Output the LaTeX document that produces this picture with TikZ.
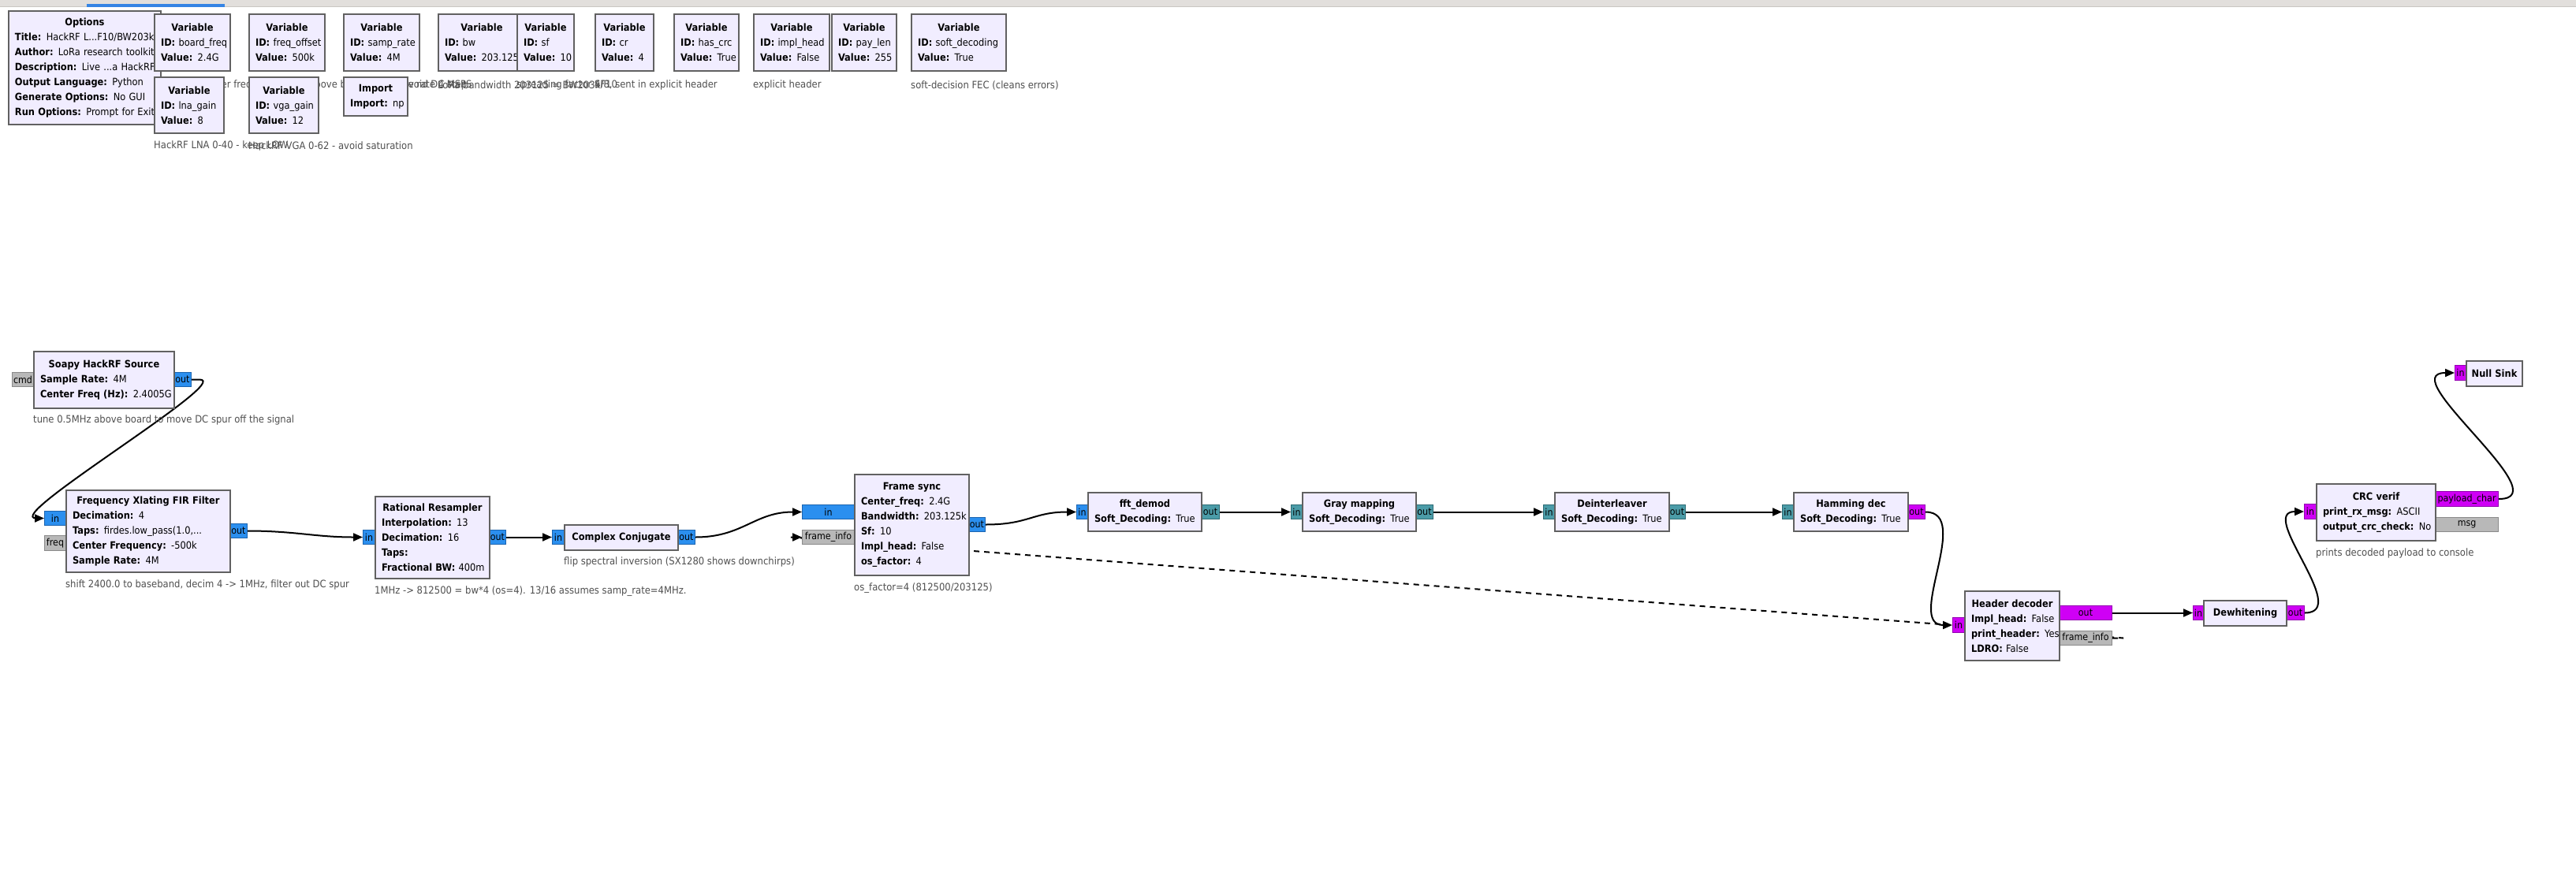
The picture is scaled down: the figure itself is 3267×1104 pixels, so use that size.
\documentclass[tikz,border=0pt]{standalone}
\usepackage{fontspec}
\setmainfont{DejaVu Sans}[FakeStretch=0.9]
\usetikzlibrary{arrows.meta,backgrounds,calc}

\definecolor{blkfill}{HTML}{F1EDFF}
\definecolor{blkline}{HTML}{616161}
\definecolor{cplxfill}{HTML}{2B8FEF}
\definecolor{cplxline}{HTML}{1B64B0}
\definecolor{bytefill}{HTML}{4B9CA8}
\definecolor{byteline}{HTML}{2E6C75}
\definecolor{intfill}{HTML}{CF00F5}
\definecolor{intline}{HTML}{9300B0}
\definecolor{msgfill}{HTML}{B8B8B8}
\definecolor{msgline}{HTML}{8A8A8A}
\definecolor{notegray}{HTML}{4F4F4F}
\definecolor{barfill}{HTML}{E2DFDC}
\definecolor{barline}{HTML}{C9C6C2}
\definecolor{tabblue}{HTML}{3584E4}

\newcommand{\kv}[2]{\mbox{\textbf{#1:} #2}}
\newcommand{\btitle}[1]{\makebox[\linewidth]{\bfseries #1}}

\begin{document}
\begin{tikzpicture}[x=1pt, y=-1pt,
  blk/.style={draw=blkline, line width=2pt, fill=blkfill, anchor=north west, align=left,
    inner xsep=8pt, inner ysep=0pt, font=\fontsize{12.7}{19}\selectfont},
  port/.style={line width=1pt, anchor=north west, inner sep=0pt, font=\fontsize{12.3}{12}\selectfont},
  cport/.style={port, fill=cplxfill, draw=cplxline},
  tport/.style={port, fill=bytefill, draw=byteline},
  mport/.style={port, fill=intfill, draw=intline},
  gport/.style={port, fill=msgfill, draw=msgline},
  note/.style={anchor=west, inner sep=0pt, text=notegray, font=\fontsize{12.9}{13}\selectfont},
  wire/.style={line width=2pt, -{Triangle[length=12pt,width=10pt]}},
  msgwire/.style={wire, dash pattern=on 7pt off 6pt}]
\useasboundingbox (0,0) rectangle (3267,1104);

% window bar
\fill[barfill] (0,0) rectangle (3267,8);
\draw[barline] (0,8) -- (3267,8);
\fill[tabblue] (110,4.5) rectangle (285,9);

% options and variables
\node[blk, text width=177pt, minimum height=144pt] (options) at (10,13) {\btitle{Options}\\ \kv{Title}{HackRF L...F10/BW203k)}\\ \kv{Author}{LoRa research toolkit}\\ \kv{Description}{Live ...a HackRF}\\ \kv{Output Language}{Python}\\ \kv{Generate Options}{No GUI}\\ \kv{Run Options}{Prompt for Exit}};
\node[blk, text width=80pt, minimum height=72pt] (board_freq) at (195,17) {\btitle{Variable}\\ \kv{ID}{board\_freq}\\ \kv{Value}{2.4G}};
\node[blk, text width=80pt, minimum height=72pt] (freq_offset) at (315,17) {\btitle{Variable}\\ \kv{ID}{freq\_offset}\\ \kv{Value}{500k}};
\node[blk, text width=80pt, minimum height=72pt] (samp_rate) at (435,17) {\btitle{Variable}\\ \kv{ID}{samp\_rate}\\ \kv{Value}{4M}};
\node[blk, text width=94pt, minimum height=72pt] (bw) at (555,17) {\btitle{Variable}\\ \kv{ID}{bw}\\ \kv{Value}{203.125k}};
\node[blk, text width=56pt, minimum height=72pt] (sf) at (655,17) {\btitle{Variable}\\ \kv{ID}{sf}\\ \kv{Value}{10}};
\node[blk, text width=58pt, minimum height=72pt] (cr) at (754,17) {\btitle{Variable}\\ \kv{ID}{cr}\\ \kv{Value}{4}};
\node[blk, text width=66pt, minimum height=72pt] (has_crc) at (854,17) {\btitle{Variable}\\ \kv{ID}{has\_crc}\\ \kv{Value}{True}};
\node[blk, text width=80pt, minimum height=72pt] (impl_head) at (955,17) {\btitle{Variable}\\ \kv{ID}{impl\_head}\\ \kv{Value}{False}};
\node[blk, text width=66pt, minimum height=72pt] (pay_len) at (1054,17) {\btitle{Variable}\\ \kv{ID}{pay\_len}\\ \kv{Value}{255}};
\node[blk, text width=104pt, minimum height=72pt] (soft_dec) at (1155,17) {\btitle{Variable}\\ \kv{ID}{soft\_decoding}\\ \kv{Value}{True}};

\node[note] (board_freq_c) at (195,108) {LoRa transmitter freq};
\node[note] (freq_offset_c) at (315,108) {tune 0.5MHz above board freq to avoid DC step};
\node[note] (samp_rate_c) at (435,108) {HackRF sample rate 4 MSPS};
\node[note] (bw_c) at (555,108) {LoRa bandwidth 203125 = BW203k};
\node[note] (sf_c) at (655,108) {spreading factor SF10};
\node[note] (cr_c) at (754,108) {4/8, sent in explicit header};
\node[note] (impl_head_c) at (955,108) {explicit header};
\node[note] (soft_dec_c) at (1155,108) {soft-decision FEC (cleans errors)};

\node[blk, text width=72pt, minimum height=71pt] (lna_gain) at (195,97) {\btitle{Variable}\\ \kv{ID}{lna\_gain}\\ \kv{Value}{8}};
\node[blk, text width=72pt, minimum height=71pt] (vga_gain) at (315,97) {\btitle{Variable}\\ \kv{ID}{vga\_gain}\\ \kv{Value}{12}};
\node[blk, text width=65pt, minimum height=49pt] (import) at (435,97) {\btitle{Import}\\ \kv{Import}{np}};
\node[note] (lna_gain_c) at (195,185) {HackRF LNA 0-40 - keep LOW};
\node[note] (vga_gain_c) at (315,185) {HackRF VGA 0-62 - avoid saturation};

% ports
\node[gport, minimum width=27pt, minimum height=18pt] (src_cmd) at (15,472) {cmd};
\node[cport, minimum width=22pt, minimum height=18pt] (src_out) at (220,472) {out};
\node[cport, minimum width=27pt, minimum height=18pt] (fir_in) at (56,648) {in};
\node[gport, minimum width=27pt, minimum height=19pt] (fir_freq) at (56,679) {freq};
\node[cport, minimum width=22pt, minimum height=18pt] (fir_out) at (291,664) {out};
\node[cport, minimum width=15pt, minimum height=18pt] (rs_in) at (460,672) {in};
\node[cport, minimum width=21pt, minimum height=18pt] (rs_out) at (620,672) {out};
\node[cport, minimum width=15pt, minimum height=18pt] (cc_in) at (700,672) {in};
\node[cport, minimum width=22pt, minimum height=18pt] (cc_out) at (859,672) {out};
\node[cport, minimum width=66pt, minimum height=18pt] (fs_in) at (1017,640) {in};
\node[gport, minimum width=66pt, minimum height=18pt] (fs_fi) at (1017,672) {frame\_info};
\node[cport, minimum width=21pt, minimum height=18pt] (fs_out) at (1228,656) {out};
\node[cport, minimum width=14pt, minimum height=18pt] (fft_in) at (1365,640) {in};
\node[tport, minimum width=23pt, minimum height=18pt] (fft_out) at (1523,640) {out};
\node[tport, minimum width=14pt, minimum height=18pt] (gm_in) at (1637,640) {in};
\node[tport, minimum width=22pt, minimum height=18pt] (gm_out) at (1795,640) {out};
\node[tport, minimum width=14pt, minimum height=18pt] (di_in) at (1957,640) {in};
\node[tport, minimum width=21pt, minimum height=18pt] (di_out) at (2116,640) {out};
\node[tport, minimum width=14pt, minimum height=18pt] (hd_in) at (2260,640) {in};
\node[mport, minimum width=22pt, minimum height=18pt] (hd_out) at (2419,640) {out};
\node[mport, minimum width=15pt, minimum height=19pt] (hdr_in) at (2476,783) {in};
\node[mport, minimum width=67pt, minimum height=18pt] (hdr_out) at (2611,768) {out};
\node[gport, minimum width=67pt, minimum height=18pt] (hdr_fi) at (2611,800) {frame\_info};
\node[mport, minimum width=13pt, minimum height=18pt] (dw_in) at (2781,768) {in};
\node[mport, minimum width=23pt, minimum height=18pt] (dw_out) at (2899,768) {out};
\node[mport, minimum width=15pt, minimum height=19pt] (crc_in) at (2922,639) {in};
\node[mport, minimum width=80pt, minimum height=19pt] (crc_pc) at (3088,623) {payload\_char};
\node[gport, minimum width=80pt, minimum height=18pt] (crc_msg) at (3088,656) {msg};
\node[mport, minimum width=14pt, minimum height=19pt] (ns_in) at (3113,463) {in};

% blocks
\node[blk, text width=162pt, minimum height=72pt] (src) at (42,445) {\btitle{Soapy HackRF Source}\\ \kv{Sample Rate}{4M}\\ \kv{Center Freq (Hz)}{2.4005G}};
\node[blk, text width=192pt, minimum height=104pt] (fir) at (83,621) {\btitle{Frequency Xlating FIR Filter}\\ \kv{Decimation}{4}\\ \kv{Taps}{firdes.low\_pass(1.0,...}\\ \kv{Center Frequency}{-500k}\\ \kv{Sample Rate}{4M}};
\node[blk, text width=129pt, minimum height=104pt] (rs) at (475,629) {\btitle{Rational Resampler}\\ \kv{Interpolation}{13}\\ \kv{Decimation}{16}\\ \kv{Taps}{}\\ \kv{Fractional BW}{400m}};
\node[blk, text width=128pt, minimum height=32pt] (cc) at (715,665) {\btitle{Complex Conjugate}};
\node[blk, text width=129pt, minimum height=128pt] (fs) at (1083,601) {\btitle{Frame sync}\\ \kv{Center\_freq}{2.4G}\\ \kv{Bandwidth}{203.125k}\\ \kv{Sf}{10}\\ \kv{Impl\_head}{False}\\ \kv{os\_factor}{4}};
\node[blk, text width=128pt, minimum height=49pt] (fft) at (1379,624) {\btitle{fft\_demod}\\ \kv{Soft\_Decoding}{True}};
\node[blk, text width=128pt, minimum height=49pt] (gm) at (1651,624) {\btitle{Gray mapping}\\ \kv{Soft\_Decoding}{True}};
\node[blk, text width=129pt, minimum height=49pt] (di) at (1971,624) {\btitle{Deinterleaver}\\ \kv{Soft\_Decoding}{True}};
\node[blk, text width=129pt, minimum height=49pt] (hd) at (2274,624) {\btitle{Hamming dec}\\ \kv{Soft\_Decoding}{True}};
\node[blk, text width=104pt, minimum height=88pt] (hdr) at (2491,749) {\btitle{Header decoder}\\ \kv{Impl\_head}{False}\\ \kv{print\_header}{Yes}\\ \kv{LDRO}{False}};
\node[blk, text width=89pt, minimum height=32pt] (dw) at (2794,761) {\btitle{Dewhitening}};
\node[blk, text width=135pt, minimum height=72pt] (crc) at (2937,613) {\btitle{CRC verif}\\ \kv{print\_rx\_msg}{ASCII}\\ \kv{output\_crc\_check}{No}};
\node[blk, text width=55pt, minimum height=32pt] (ns) at (3127,457) {\btitle{Null Sink}};

% comments
\node[note] (src_c) at (42,533) {tune 0.5MHz above board to move DC spur off the signal};
\node[note] (fir_c) at (83,742) {shift 2400.0 to baseband, decim 4 -> 1MHz, filter out DC spur};
\node[note] (rs_c) at (475,750) {1MHz -> 812500 = bw*4 (os=4). 13/16 assumes samp\_rate=4MHz.};
\node[note] (cc_c) at (715,713) {flip spectral inversion (SX1280 shows downchirps)};
\node[note] (fs_c) at (1083,746) {os\_factor=4 (812500/203125)};
\node[note] (crc_c) at (2937,702) {prints decoded payload to console};

% connections
\begin{scope}[on background layer]
\draw[wire] (src_out.east) -- ++(10,0) .. controls +(45,0) and +(-45,0) .. ($(fir_in.west)+(-10,0)$) -- (fir_in.west);
\draw[wire] (fir_out.east) .. controls +(60,0) and +(-60,0) .. (rs_in.west);
\draw[wire] (rs_out.east) -- (cc_in.west);
\draw[wire] (cc_out.east) .. controls +(60,0) and +(-60,0) .. (fs_in.west);
\draw[wire] (fs_out.east) .. controls +(55,0) and +(-55,0) .. (fft_in.west);
\draw[wire] (fft_out.east) -- (gm_in.west);
\draw[wire] (gm_out.east) -- (di_in.west);
\draw[wire] (di_out.east) -- (hd_in.west);
\draw[wire] (hd_out.east) .. controls +(60,0) and +(-60,0) .. (hdr_in.west);
\draw[wire] (hdr_out.east) -- (dw_in.west);
\draw[wire] (dw_out.east) .. controls +(60,0) and +(-60,0) .. (crc_in.west);
\draw[wire] (crc_pc.east) .. controls +(80,0) and +(-80,0) .. (ns_in.west);
\draw[msgwire] (hdr_fi.east) -- ++(14,0) -- ($(fs_fi.west)+(-14,0)$) -- (fs_fi.west);
\end{scope}
\end{tikzpicture}
\end{document}
